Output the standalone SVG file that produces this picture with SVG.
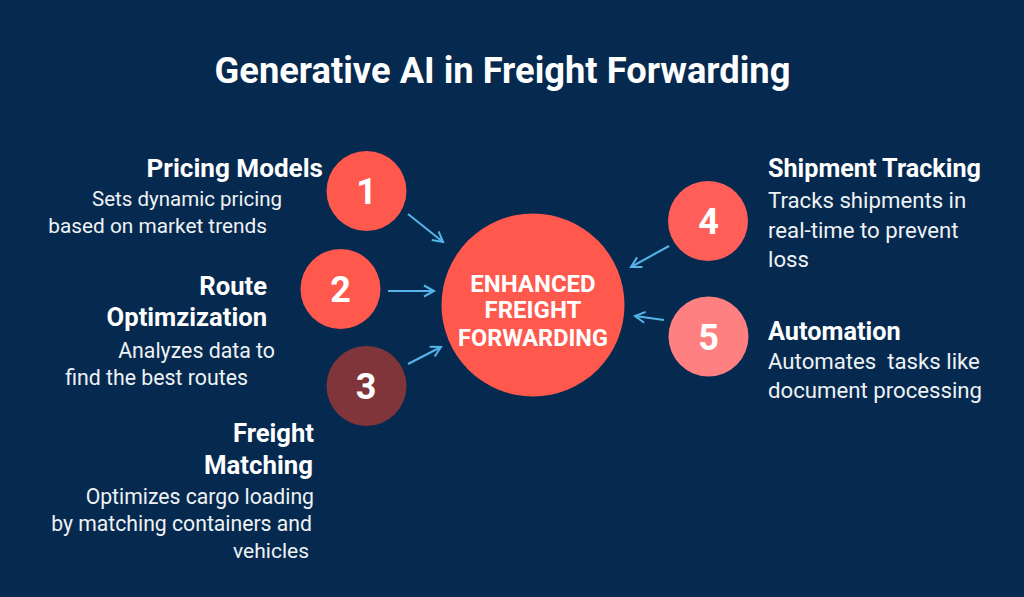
<svg xmlns="http://www.w3.org/2000/svg" width="1024" height="597" viewBox="0 0 1024 597">
<defs>
<marker id="a" markerUnits="userSpaceOnUse" markerWidth="16" markerHeight="16" refX="12" refY="7" orient="auto"><path d="M2 1.5L12 7L2 12.5" fill="none" stroke="#55b5e8" stroke-width="2"/></marker>
</defs>
<style>
text{font-family:Roboto,"Liberation Sans",sans-serif;fill:#fff}
.t{font-size:25.6px;font-weight:700}
.d{font-size:21px;fill:#eef2f5}
.r{font-size:22.2px}
.e{text-anchor:end}
.n{font-size:36px;font-weight:700;text-anchor:middle}
.c{font-size:24px;font-weight:700;text-anchor:middle}
.l{fill:none;stroke:#55b5e8;stroke-width:2;marker-end:url(#a)}
</style>
<rect width="1024" height="597" fill="#062a4f"/>
<text x="502.500" y="83" font-size="36.3" font-weight="700" text-anchor="middle">Generative AI in Freight Forwarding</text>
<g id="connectors">
<path class="l" d="M408 214L443 242"/>
<path class="l" d="M388 291L434 291"/>
<path class="l" d="M408 364L441 347"/>
<path class="l" d="M669 246L631 267"/>
<path class="l" d="M664 320L635 316"/>
</g>
<g id="center"><circle cx="533" cy="305" r="91.500" fill="#ff584d"/>
<text class="c" x="533" y="292">ENHANCED</text><text class="c" x="533" y="318">FREIGHT</text><text class="c" x="533" y="346" style="font-size:23.500px">FORWARDING</text></g>
<g id="node1"><circle cx="366.500" cy="191" r="40" fill="#ff584d"/><text class="n" x="366.500" y="204">1</text>
<text class="t e" x="323" y="176.500" style="font-size:26.100px">Pricing Models</text><text class="d e" x="282" y="206" style="font-size:20.500px">Sets dynamic pricing</text><text class="d e" x="267" y="233" style="font-size:20.800px">based on market trends</text></g>
<g id="node2"><circle cx="340.500" cy="289" r="40" fill="#ff584d"/><text class="n" x="340.500" y="302">2</text>
<text class="t e" x="267" y="294.500">Route</text><text class="t e" x="267" y="325.500">Optimzization</text><text class="d e" x="275" y="358" style="font-size:21.300px">Analyzes data to</text><text class="d e" x="248" y="385" style="font-size:21.300px">find the best routes</text></g>
<g id="node3"><circle cx="366.500" cy="386" r="40" fill="#7f3539"/><text class="n" x="366" y="399">3</text>
<text class="t e" x="314" y="441.500">Freight</text><text class="t e" x="313" y="473.500" style="font-size:25.800px">Matching</text><text class="d e" x="314" y="504" style="font-size:21.200px">Optimizes cargo loading</text><text class="d e" x="312" y="531" style="font-size:21.200px">by matching containers and</text><text class="d e" x="309" y="558">vehicles</text></g>
<g id="node4"><circle cx="708" cy="221" r="40" fill="#ff5f58"/><text class="n" x="708.500" y="234">4</text>
<text class="t" x="768" y="176.500" style="font-size:25.200px">Shipment Tracking</text><text class="d r" x="768" y="208">Tracks shipments in</text><text class="d r" x="768" y="238">real-time to prevent</text><text class="d r" x="768" y="267">loss</text></g>
<g id="node5"><circle cx="708.500" cy="336.500" r="40" fill="#ff8080"/><text class="n" x="708.500" y="349.500">5</text>
<text class="t" x="768" y="339.500" style="font-size:25.300px">Automation</text><text class="d r" x="768" y="369" xml:space="preserve">Automates  tasks like</text><text class="d r" x="768" y="398">document processing</text></g>
</svg>
